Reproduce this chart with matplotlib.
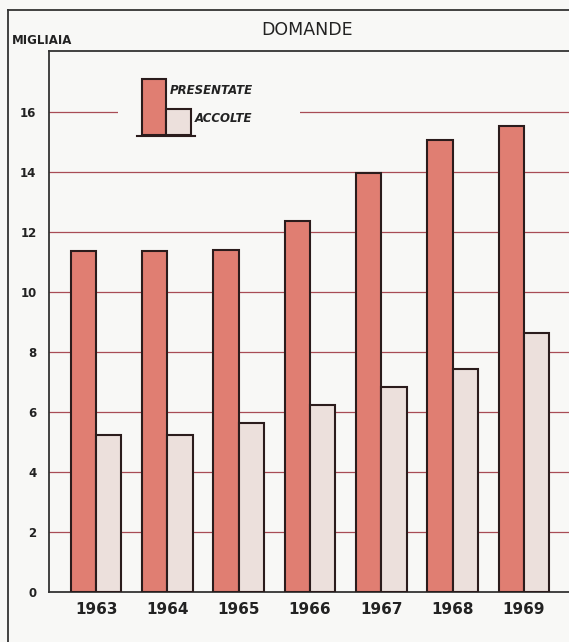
import matplotlib.pyplot as plt
from matplotlib.patches import Rectangle
from matplotlib.lines import Line2D
import numpy as np

years = ['1963', '1964', '1965', '1966', '1967', '1968', '1969']
presentate = [11.35, 11.35, 11.4, 12.38, 13.95, 15.07, 15.53]
accolte = [5.22, 5.24, 5.63, 6.23, 6.82, 7.42, 8.62]
yticks = [0, 2, 4, 6, 8, 10, 12, 14, 16]

c_pres = '#e07e72'
c_acc = '#ece0dc'
c_edge = '#2b1c1c'
c_grid = '#a84c55'
bg = '#f8f8f6'

W, H = 569, 642
fig = plt.figure(figsize=(W / 100, H / 100), dpi=100, facecolor=bg)

# axes placed in pixel terms
ax = fig.add_axes([49 / W, 1 - 592 / H, 1 - 49 / W, (592 - 51) / H], facecolor=bg)

x = np.arange(len(years))
w = 0.355
ax.bar(x - w / 2, presentate, width=w, color=c_pres, edgecolor=c_edge, linewidth=1.5, zorder=3)
ax.bar(x + w / 2, accolte, width=w, color=c_acc, edgecolor=c_edge, linewidth=1.5, zorder=3)

ax.set_xlim(-0.66, 6.63)
ax.set_ylim(0, 18.03)

for t in yticks[1:]:
    ax.axhline(t, color=c_grid, linewidth=0.9, zorder=1)

ax.set_yticks(yticks)
ax.set_yticklabels([str(t) for t in yticks], fontsize=8.5, fontweight='bold', color='#222222')
ax.set_xticks(x)
ax.set_xticklabels(years, fontsize=11, fontweight='bold', color='#222222')
ax.tick_params(axis='both', length=0)
ax.tick_params(axis='y', pad=9)
ax.tick_params(axis='x', pad=7)

for s in ['left', 'bottom', 'top']:
    ax.spines[s].set_color('#333333')
    ax.spines[s].set_linewidth(1.3)
ax.spines['right'].set_visible(False)

# legend drawn by hand in axes fraction
def fx(px):
    return (px - 49) / 520

def fy(py):
    return (592 - py) / 541

ax.add_patch(Rectangle((fx(118), fy(142)), fx(300) - fx(118), fy(66) - fy(142),
                       transform=ax.transAxes, facecolor=bg, edgecolor='none', zorder=2))
ax.add_patch(Rectangle((fx(142), fy(135)), fx(166) - fx(142), fy(79) - fy(135),
                       transform=ax.transAxes, facecolor=c_pres, edgecolor=c_edge, linewidth=1.5, zorder=4))
ax.add_patch(Rectangle((fx(166), fy(135)), fx(191) - fx(166), fy(109) - fy(135),
                       transform=ax.transAxes, facecolor=c_acc, edgecolor=c_edge, linewidth=1.5, zorder=4))
ax.add_line(Line2D([fx(137), fx(195)], [fy(136), fy(136)], transform=ax.transAxes,
                   color=c_edge, linewidth=1.5, zorder=4))
ax.text(fx(170), fy(91), 'PRESENTATE', transform=ax.transAxes, fontsize=8.5,
        fontweight='bold', fontstyle='italic', va='center', ha='left', color='#222222', zorder=5)
ax.text(fx(195), fy(119), 'ACCOLTE', transform=ax.transAxes, fontsize=8.5,
        fontweight='bold', fontstyle='italic', va='center', ha='left', color='#222222', zorder=5)

# titles
fig.text(307 / W, 1 - 30 / H, 'DOMANDE', fontsize=12.5, ha='center', va='center', color='#222222')
fig.text(12 / W, 1 - 41 / H, 'MIGLIAIA', fontsize=8.5, fontweight='bold', ha='left', va='center', color='#222222')

# outer frame
fig.add_artist(Line2D([8 / W, 1], [1 - 10 / H, 1 - 10 / H], color='#333333', linewidth=1.3))
fig.add_artist(Line2D([8 / W, 8 / W], [0, 1 - 10 / H], color='#333333', linewidth=1.3))

fig.savefig('out.png', dpi=100, facecolor=bg)
